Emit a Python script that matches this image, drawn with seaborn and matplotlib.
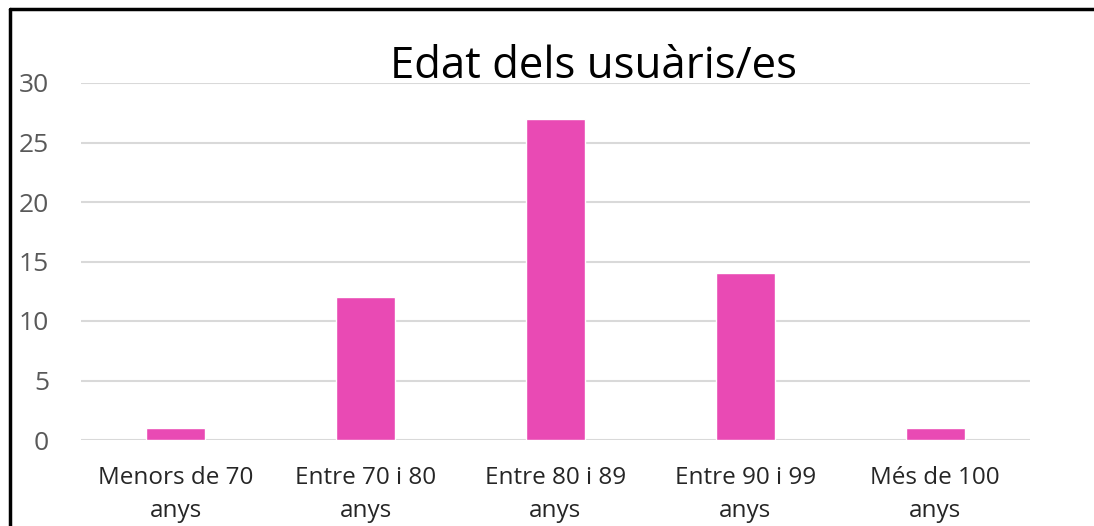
import matplotlib
matplotlib.use("Agg")
import matplotlib.pyplot as plt
from matplotlib.lines import Line2D
import seaborn as sns
import pandas as pd

categories = ["Menors de 70\nanys", "Entre 70 i 80\nanys", "Entre 80 i 89\nanys",
              "Entre 90 i 99\nanys", "Més de 100\nanys"]
values = [1, 12, 27, 14, 1]
title = "Edat dels usuàris/es"

df = pd.DataFrame({"edat": categories, "usuaris": values})

sns.set_style("white")
plt.rcParams["font.family"] = ["Open Sans", "DejaVu Sans"]

fig = plt.figure(figsize=(10.94, 5.26), dpi=100)
ax = fig.add_axes([81 / 1094, 1 - 440 / 526, 949 / 1094, 357 / 526])

sns.barplot(data=df, x="edat", y="usuaris", color="#E94AB4", width=0.31,
            saturation=1, ax=ax, zorder=3)

ax.set_ylim(0, 30)
ax.set_yticks(range(0, 31, 5))
ax.yaxis.grid(True, color="#D9D9D9", linewidth=1.5, zorder=0)
ax.set_axisbelow(True)
for s in ax.spines.values():
    s.set_visible(False)
ax.set_xlabel("")
ax.set_ylabel("")
ax.tick_params(axis="y", length=0, pad=23, labelsize=19, labelcolor="#595959")
ax.tick_params(axis="x", length=0, pad=19, labelsize=17.5, labelcolor="#262626")
for lbl in ax.get_xticklabels():
    lbl.set_linespacing(1.5)

fig.text(593 / 1094, 1 - 67 / 526, title, ha="center", va="center", fontsize=31.5, color="black")

# chart frame (only left and top visible in the crop)
fig.add_artist(Line2D([10 / 1094, 10 / 1094], [0, 1 - 9 / 526], color="black", linewidth=2.5,
                      transform=fig.transFigure))
fig.add_artist(Line2D([10 / 1094, 1], [1 - 9 / 526, 1 - 9 / 526], color="black", linewidth=2.5,
                      transform=fig.transFigure))

fig.savefig("out.png", dpi=100, facecolor="white")
